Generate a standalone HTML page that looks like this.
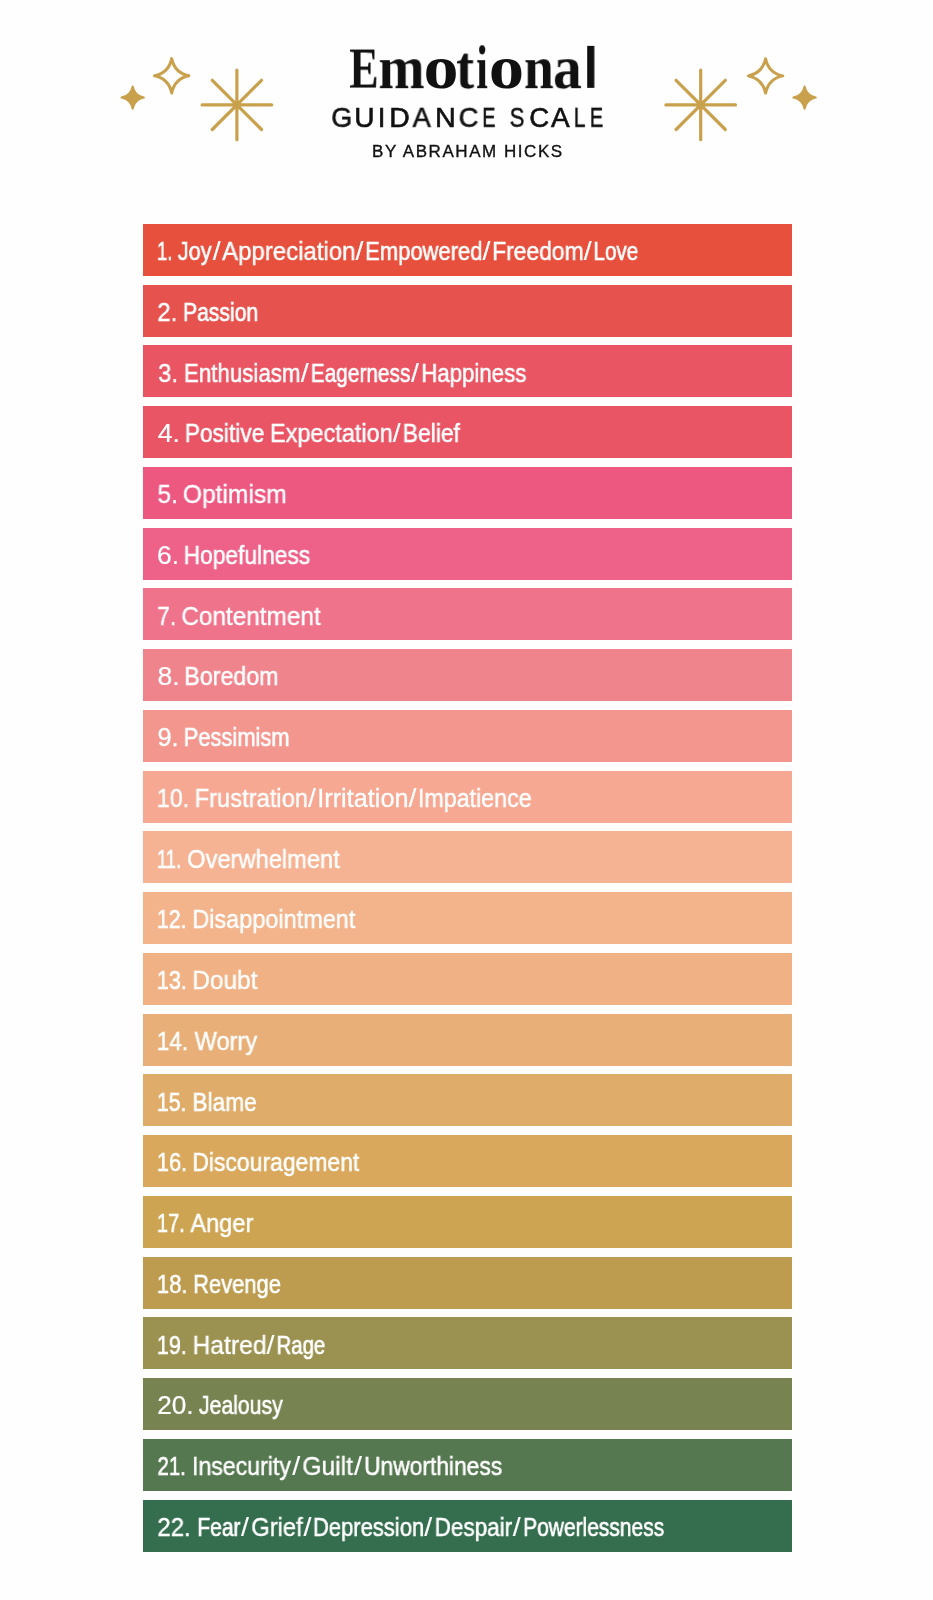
<!DOCTYPE html>
<html><head><meta charset="utf-8"><title>Emotional Guidance Scale</title>
<style>
html,body{margin:0;padding:0;background:#fefefe;}
body{width:933px;height:1600px;position:relative;overflow:hidden;font-family:"Liberation Sans",sans-serif;filter:blur(0.5px);}
.bar{position:absolute;left:142.9px;width:649.2px;height:52.0px;box-sizing:border-box;padding-top:15.24px;font-size:0;line-height:0;white-space:nowrap;}
.bar span{display:inline-block;width:0;vertical-align:top;white-space:nowrap;color:#fff;-webkit-text-stroke:0.3px #fff;font-size:25px;line-height:25px;transform-origin:0 0;will-change:transform;}
.hl{position:absolute;left:0;top:0;width:933px;height:0;font-size:0;line-height:0;white-space:nowrap;}
.hd{display:inline-block;width:0;vertical-align:top;white-space:nowrap;color:#111;transform-origin:0 0;will-change:transform;}
.t1{font-family:"Liberation Serif",serif;font-weight:bold;}
.t2{font-size:27.6px;line-height:27.6px;-webkit-text-stroke:0.6px #111;}
#t3{position:absolute;display:block;width:auto;font-size:17px;line-height:17px;left:372px;top:143px;letter-spacing:1.55px;-webkit-text-stroke:0.35px #111;}
svg{position:absolute;left:0;top:0;}
</style></head><body>
<svg width="933" height="200" viewBox="0 0 933 200" fill="none" stroke="#C9A14C" stroke-width="3.2" stroke-linecap="round" stroke-linejoin="round">
<defs>
<g id="ast"><path d="M-34.8 0H34.8M0 -34.8V34.8M-24.6 -24.6L24.6 24.6M-24.6 24.6L24.6 -24.6"/></g>
<path id="s4" d="M0 -1C0.12 -0.42 0.42 -0.12 1 0C0.42 0.12 0.12 0.42 0 1C-0.12 0.42 -0.42 0.12 -1 0C-0.42 -0.12 -0.12 -0.42 0 -1Z"/>
</defs>
<use href="#ast" x="236.9" y="104.9"/>
<use href="#ast" x="700.7" y="104.9"/>
<g transform="translate(171.7 75.8) scale(17.2)" stroke-width="0.1744"><use href="#s4"/></g>
<g transform="translate(765.6 75.9) scale(17.2)" stroke-width="0.1744"><use href="#s4"/></g>
<g transform="translate(132.7 97.6) scale(11.2)" stroke-width="0.18" fill="#C9A14C"><use href="#s4"/></g>
<g transform="translate(804.6 97.6) scale(11.2)" stroke-width="0.18" fill="#C9A14C"><use href="#s4"/></g>
</svg>
<div class="hl"><span class="hd t1" style="font-size:58px;line-height:58px;transform:translate(349.30px,39.52px) scaleX(0.7556)">E</span><span class="hd t1" style="font-size:62px;line-height:62px;transform:translate(378.41px,36.17px) scaleX(0.8940)">m</span><span class="hd t1" style="font-size:62px;line-height:62px;transform:translate(423.54px,36.17px) scaleX(1.1296)">o</span><span class="hd t1" style="font-size:62px;line-height:62px;transform:translate(456.13px,36.17px) scaleX(0.8700)">t</span><span class="hd t1" style="font-size:62px;line-height:62px;transform:translate(476.12px,36.17px) scaleX(0.6812)">i</span><span class="hd t1" style="font-size:62px;line-height:62px;transform:translate(488.72px,36.17px) scaleX(1.1407)">o</span><span class="hd t1" style="font-size:62px;line-height:62px;transform:translate(523.94px,36.17px) scaleX(0.8636)">n</span><span class="hd t1" style="font-size:62px;line-height:62px;transform:translate(552.94px,36.17px) scaleX(0.9310)">a</span><span class="hd" style="font-weight:bold;font-size:57.0px;line-height:57.0px;transform:translate(583.57px,39.85px) scaleX(0.9111)">l</span></div>
<div class="hl"><span class="hd t2" style="transform:translate(331.23px,103.84px) scaleX(0.9737)">G</span><span class="hd t2" style="transform:translate(354.36px,103.84px) scaleX(1.0188)">U</span><span class="hd t2" style="transform:translate(377.70px,103.84px) scaleX(1.0000)">I</span><span class="hd t2" style="transform:translate(389.34px,103.84px) scaleX(1.0294)">D</span><span class="hd t2" style="transform:translate(412.60px,103.84px) scaleX(0.9895)">A</span><span class="hd t2" style="transform:translate(435.11px,103.84px) scaleX(1.0437)">N</span><span class="hd t2" style="transform:translate(458.61px,103.84px) scaleX(0.9944)">C</span><span class="hd t2" style="transform:translate(482.15px,103.84px) scaleX(0.7250)">E</span> <span class="hd t2" style="transform:translate(509.70px,103.84px) scaleX(0.8000)">S</span><span class="hd t2" style="transform:translate(529.20px,103.84px) scaleX(1.0000)">C</span><span class="hd t2" style="transform:translate(551.10px,103.84px) scaleX(1.0158)">A</span><span class="hd t2" style="transform:translate(573.78px,103.84px) scaleX(0.7615)">L</span><span class="hd t2" style="transform:translate(589.85px,103.84px) scaleX(0.7250)">E</span></div>
<div class="hd" id="t3">BY ABRAHAM HICKS</div>
<div class="bar" style="top:223.80px;background:#E6503C"><span style="transform:translateX(14.02px) scaleX(0.7345);-webkit-text-stroke-width:0.70px">1.</span> <span style="transform:translateX(34.80px) scaleX(0.8654);-webkit-text-stroke-width:0.57px">Joy</span><span style="transform:translateX(69.80px) scaleX(1.1429);-webkit-text-stroke-width:0.10px">/</span><span style="transform:translateX(79.10px) scaleX(0.9596);-webkit-text-stroke-width:0.38px">Appreciation</span><span style="transform:translateX(212.50px) scaleX(1.1429);-webkit-text-stroke-width:0.10px">/</span><span style="transform:translateX(222.14px) scaleX(0.8797);-webkit-text-stroke-width:0.54px">Empowered</span><span style="transform:translateX(339.60px) scaleX(1.1429);-webkit-text-stroke-width:0.10px">/</span><span style="transform:translateX(349.17px) scaleX(0.9135);-webkit-text-stroke-width:0.47px">Freedom</span><span style="transform:translateX(440.70px) scaleX(1.1429);-webkit-text-stroke-width:0.10px">/</span><span style="transform:translateX(450.45px) scaleX(0.8264);-webkit-text-stroke-width:0.65px">Love</span></div>
<div class="bar" style="top:284.55px;background:#E6534E"><span style="transform:translateX(14.24px) scaleX(0.9607);-webkit-text-stroke-width:0.38px">2.</span> <span style="transform:translateX(40.01px) scaleX(0.8450);-webkit-text-stroke-width:0.61px">Passion</span></div>
<div class="bar" style="top:345.30px;background:#E95562"><span style="transform:translateX(15.20px) scaleX(0.9416);-webkit-text-stroke-width:0.42px">3.</span> <span style="transform:translateX(40.91px) scaleX(0.8929);-webkit-text-stroke-width:0.51px">Enthusiasm</span><span style="transform:translateX(157.70px) scaleX(1.1429);-webkit-text-stroke-width:0.10px">/</span><span style="transform:translateX(167.73px) scaleX(0.8341);-webkit-text-stroke-width:0.63px">Eagerness</span><span style="transform:translateX(267.90px) scaleX(1.1429);-webkit-text-stroke-width:0.10px">/</span><span style="transform:translateX(278.32px) scaleX(0.8882);-webkit-text-stroke-width:0.52px">Happiness</span></div>
<div class="bar" style="top:406.05px;background:#E95565"><span style="transform:translateX(14.70px) scaleX(1.0686);-webkit-text-stroke-width:0.16px">4.</span> <span style="transform:translateX(41.79px) scaleX(0.9074);-webkit-text-stroke-width:0.49px">Positive</span> <span style="transform:translateX(126.92px) scaleX(0.9402);-webkit-text-stroke-width:0.42px">Expectation</span><span style="transform:translateX(249.80px) scaleX(1.1429);-webkit-text-stroke-width:0.10px">/</span><span style="transform:translateX(259.67px) scaleX(0.9160);-webkit-text-stroke-width:0.47px">Belief</span></div>
<div class="bar" style="top:466.80px;background:#EC5880"><span style="transform:translateX(14.53px) scaleX(0.9719);-webkit-text-stroke-width:0.36px">5.</span> <span style="transform:translateX(39.82px) scaleX(0.9843);-webkit-text-stroke-width:0.33px">Optimism</span></div>
<div class="bar" style="top:527.55px;background:#EE628A"><span style="transform:translateX(14.04px) scaleX(1.0556);-webkit-text-stroke-width:0.19px">6.</span> <span style="transform:translateX(40.68px) scaleX(0.9100);-webkit-text-stroke-width:0.48px">Hopefulness</span></div>
<div class="bar" style="top:588.30px;background:#F0738C"><span style="transform:translateX(14.19px) scaleX(0.9104);-webkit-text-stroke-width:0.48px">7.</span> <span style="transform:translateX(38.33px) scaleX(0.9733);-webkit-text-stroke-width:0.35px">Contentment</span></div>
<div class="bar" style="top:649.05px;background:#F0848C"><span style="transform:translateX(14.44px) scaleX(1.0612);-webkit-text-stroke-width:0.18px">8.</span> <span style="transform:translateX(41.24px) scaleX(0.9299);-webkit-text-stroke-width:0.44px">Boredom</span></div>
<div class="bar" style="top:709.80px;background:#F3968E"><span style="transform:translateX(14.48px) scaleX(1.0165);-webkit-text-stroke-width:0.27px">9.</span> <span style="transform:translateX(40.65px) scaleX(0.8762);-webkit-text-stroke-width:0.55px">Pessimism</span></div>
<div class="bar" style="top:770.55px;background:#F6A892"><span style="transform:translateX(13.77px) scaleX(0.9306);-webkit-text-stroke-width:0.44px">10.</span> <span style="transform:translateX(51.60px) scaleX(0.9496);-webkit-text-stroke-width:0.40px">Frustration</span><span style="transform:translateX(165.10px) scaleX(1.1429);-webkit-text-stroke-width:0.10px">/</span><span style="transform:translateX(174.18px) scaleX(1.0114);-webkit-text-stroke-width:0.28px">Irritation</span><span style="transform:translateX(265.50px) scaleX(1.1429);-webkit-text-stroke-width:0.10px">/</span><span style="transform:translateX(274.94px) scaleX(0.9289);-webkit-text-stroke-width:0.44px">Impatience</span></div>
<div class="bar" style="top:831.30px;background:#F6B393"><span style="transform:translateX(13.97px) scaleX(0.7345);-webkit-text-stroke-width:0.70px">11.</span> <span style="transform:translateX(44.15px) scaleX(0.9468);-webkit-text-stroke-width:0.41px">Overwhelment</span></div>
<div class="bar" style="top:892.05px;background:#F3B38B"><span style="transform:translateX(13.85px) scaleX(0.8520);-webkit-text-stroke-width:0.60px">12.</span> <span style="transform:translateX(49.32px) scaleX(0.9385);-webkit-text-stroke-width:0.42px">Disappointment</span></div>
<div class="bar" style="top:952.80px;background:#F0B285"><span style="transform:translateX(13.84px) scaleX(0.8614);-webkit-text-stroke-width:0.58px">13.</span> <span style="transform:translateX(49.24px) scaleX(0.9789);-webkit-text-stroke-width:0.34px">Doubt</span></div>
<div class="bar" style="top:1013.55px;background:#E8AF78"><span style="transform:translateX(13.80px) scaleX(0.8992);-webkit-text-stroke-width:0.50px">14.</span> <span style="transform:translateX(51.60px) scaleX(0.9445);-webkit-text-stroke-width:0.41px">Worry</span></div>
<div class="bar" style="top:1074.30px;background:#E0AC6A"><span style="transform:translateX(13.85px) scaleX(0.8520);-webkit-text-stroke-width:0.60px">15.</span> <span style="transform:translateX(49.39px) scaleX(0.9064);-webkit-text-stroke-width:0.49px">Blame</span></div>
<div class="bar" style="top:1135.05px;background:#D9A85C"><span style="transform:translateX(13.83px) scaleX(0.8709);-webkit-text-stroke-width:0.56px">16.</span> <span style="transform:translateX(49.37px) scaleX(0.9168);-webkit-text-stroke-width:0.47px">Discouragement</span></div>
<div class="bar" style="top:1195.80px;background:#CDA452"><span style="transform:translateX(13.90px) scaleX(0.8017);-webkit-text-stroke-width:0.70px">17.</span> <span style="transform:translateX(47.40px) scaleX(0.9415);-webkit-text-stroke-width:0.42px">Anger</span></div>
<div class="bar" style="top:1256.55px;background:#BD9C50"><span style="transform:translateX(13.82px) scaleX(0.8834);-webkit-text-stroke-width:0.53px">18.</span> <span style="transform:translateX(50.15px) scaleX(0.8768);-webkit-text-stroke-width:0.55px">Revenge</span></div>
<div class="bar" style="top:1317.30px;background:#9B9150"><span style="transform:translateX(13.84px) scaleX(0.8614);-webkit-text-stroke-width:0.58px">19.</span> <span style="transform:translateX(49.53px) scaleX(0.9857);-webkit-text-stroke-width:0.33px">Hatred</span><span style="transform:translateX(123.50px) scaleX(1.1429);-webkit-text-stroke-width:0.10px">/</span><span style="transform:translateX(133.57px) scaleX(0.8143);-webkit-text-stroke-width:0.67px">Rage</span></div>
<div class="bar" style="top:1378.05px;background:#778452"><span style="transform:translateX(14.25px) scaleX(1.0469);-webkit-text-stroke-width:0.21px">20.</span> <span style="transform:translateX(56.00px) scaleX(0.8480);-webkit-text-stroke-width:0.60px">Jealousy</span></div>
<div class="bar" style="top:1438.80px;background:#567850"><span style="transform:translateX(14.49px) scaleX(0.8143);-webkit-text-stroke-width:0.67px">21.</span> <span style="transform:translateX(49.05px) scaleX(0.9234);-webkit-text-stroke-width:0.45px">Insecurity</span><span style="transform:translateX(149.20px) scaleX(1.1429);-webkit-text-stroke-width:0.10px">/</span><span style="transform:translateX(159.32px) scaleX(0.9850);-webkit-text-stroke-width:0.33px">Guilt</span><span style="transform:translateX(210.90px) scaleX(1.1429);-webkit-text-stroke-width:0.10px">/</span><span style="transform:translateX(221.09px) scaleX(0.9116);-webkit-text-stroke-width:0.48px">Unworthiness</span></div>
<div class="bar" style="top:1499.55px;background:#346E4E"><span style="transform:translateX(14.34px) scaleX(0.9589);-webkit-text-stroke-width:0.38px">22.</span> <span style="transform:translateX(54.32px) scaleX(0.8395);-webkit-text-stroke-width:0.62px">Fear</span><span style="transform:translateX(98.10px) scaleX(1.1429);-webkit-text-stroke-width:0.10px">/</span><span style="transform:translateX(108.25px) scaleX(0.9487);-webkit-text-stroke-width:0.40px">Grief</span><span style="transform:translateX(160.60px) scaleX(1.1429);-webkit-text-stroke-width:0.10px">/</span><span style="transform:translateX(169.94px) scaleX(0.8798);-webkit-text-stroke-width:0.54px">Depression</span><span style="transform:translateX(281.30px) scaleX(1.1429);-webkit-text-stroke-width:0.10px">/</span><span style="transform:translateX(291.60px) scaleX(0.9007);-webkit-text-stroke-width:0.50px">Despair</span><span style="transform:translateX(369.80px) scaleX(1.1429);-webkit-text-stroke-width:0.10px">/</span><span style="transform:translateX(380.12px) scaleX(0.8386);-webkit-text-stroke-width:0.62px">Powerlessness</span></div>
</body></html>
